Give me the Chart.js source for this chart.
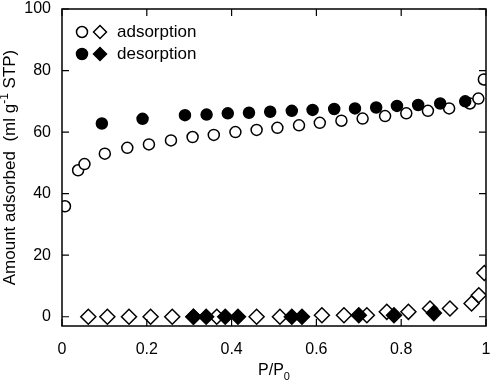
<!DOCTYPE html>
<html lang="en">
<head>
<meta charset="UTF-8">
<title>Isotherm</title>
<script src="https://cdn.jsdelivr.net/npm/chart.js"></script>
<style>
    body { margin: 0; padding: 0; background: #ffffff; }
    .wrap { position: relative; width: 495px; height: 386px; }
</style>
</head>
<body>
<div class="wrap"><canvas id="iso"></canvas></div>
<script>
// open circles: adsorption, Langmuir-type part
const adsCircX = [0.007, 0.038, 0.053, 0.101, 0.154, 0.205, 0.257, 0.308, 0.358, 0.409, 0.459, 0.508,
                  0.559, 0.608, 0.659, 0.709, 0.762, 0.812, 0.863, 0.913, 0.962, 0.982, 0.995];
const adsCircY = [35.9, 47.6, 49.6, 53.0, 54.9, 56.0, 57.3, 58.4, 59.1, 60.0, 60.7, 61.4,
                  62.2, 63.0, 63.7, 64.4, 65.2, 66.1, 66.9, 67.7, 69.3, 70.9, 77.1];
// filled circles: desorption
const desCircX = [0.094, 0.190, 0.290, 0.341, 0.391, 0.441, 0.491, 0.542, 0.591, 0.642, 0.691, 0.741,
                  0.790, 0.840, 0.892, 0.951];
const desCircY = [62.8, 64.3, 65.5, 65.7, 66.1, 66.3, 66.6, 66.9, 67.2, 67.5, 67.7, 68.0,
                  68.5, 68.8, 69.3, 70.0];
// open diamonds: adsorption, second sample
const adsDiaX = [0.062, 0.107, 0.158, 0.209, 0.260, 0.310, 0.365, 0.459, 0.514, 0.613, 0.665, 0.719,
                 0.766, 0.817, 0.868, 0.915, 0.966, 0.983, 0.996];
const adsDiaY = [0, 0, 0, 0, 0, 0, 0, 0, 0, 0.5, 0.5, 0.5,
                 1.6, 1.6, 2.7, 2.7, 4.3, 7.0, 14.2];
// filled diamonds: desorption, second sample
const desDiaX = [0.31, 0.34, 0.385, 0.415, 0.542, 0.566, 0.70, 0.783, 0.877];
const desDiaY = [0, 0, 0, 0, 0, 0, 0.5, 0.5, 1.2];

const xTicks = [0, 0.2, 0.4, 0.6, 0.8, 1];
const yTicks = [0, 20, 40, 60, 80, 100];
const legendLabels = ['adsorption', 'desorption'];

const FONT = 'Arial, "Liberation Sans", sans-serif';

function pts(xs, ys) {
    return xs.map((x, i) => ({ x: x, y: ys[i] }));
}

// frame, inward ticks, axis titles and legend
const decor = {
    id: 'decor',
    afterDraw(chart) {
        const ctx = chart.ctx;
        const a = chart.chartArea;
        const sx = chart.scales.x, sy = chart.scales.y;
        const tl = 7;
        ctx.save();
        ctx.strokeStyle = '#000';
        ctx.lineWidth = 1.5;
        ctx.strokeRect(a.left, a.top, a.right - a.left, a.bottom - a.top);
        ctx.lineWidth = 1.2;
        ctx.beginPath();
        xTicks.forEach(v => {
            const px = sx.getPixelForValue(v);
            ctx.moveTo(px, a.bottom); ctx.lineTo(px, a.bottom - tl);
            ctx.moveTo(px, a.top); ctx.lineTo(px, a.top + tl);
        });
        yTicks.forEach(v => {
            const py = sy.getPixelForValue(v);
            ctx.moveTo(a.left, py); ctx.lineTo(a.left + tl, py);
            ctx.moveTo(a.right, py); ctx.lineTo(a.right - tl, py);
        });
        ctx.stroke();

        // x title  P/P0
        ctx.fillStyle = '#000';
        ctx.textBaseline = 'alphabetic';
        ctx.textAlign = 'left';
        const main = 'P/P';
        ctx.font = '16px ' + FONT;
        const w1 = ctx.measureText(main).width;
        ctx.font = '11px ' + FONT;
        const w2 = ctx.measureText('0').width;
        const cx = (a.left + a.right) / 2;
        const x0 = cx - (w1 + w2) / 2;
        ctx.font = '16px ' + FONT;
        ctx.fillText(main, x0, 375);
        ctx.font = '11px ' + FONT;
        ctx.fillText('0', x0 + w1, 380);

        // y title  Amount adsorbed  (ml g-1 STP)
        const partA = 'Amount adsorbed  (ml g';
        const sup = '-1';
        const partB = ' STP)';
        ctx.font = '17px ' + FONT;
        const wa = ctx.measureText(partA).width;
        const wb = ctx.measureText(partB).width;
        ctx.font = '12px ' + FONT;
        const ws = ctx.measureText(sup).width;
        const total = wa + ws + wb;
        const cy = (a.top + a.bottom) / 2;
        ctx.translate(15, cy);
        ctx.rotate(-Math.PI / 2);
        let t = -total / 2;
        ctx.font = '17px ' + FONT;
        ctx.fillText(partA, t, 0);
        t += wa;
        ctx.font = '12px ' + FONT;
        ctx.fillText(sup, t, -7);
        t += ws;
        ctx.font = '17px ' + FONT;
        ctx.fillText(partB, t, 0);
        ctx.setTransform(1, 0, 0, 1, 0, 0);

        // legend
        const rows = [
            { y: 32, fill: '#fff' },
            { y: 54, fill: '#000' }
        ];
        rows.forEach((r, i) => {
            ctx.fillStyle = r.fill;
            ctx.strokeStyle = '#000';
            ctx.lineWidth = 1.5;
            Chart.helpers.drawPoint(ctx, { pointStyle: 'circle', radius: 5.5, borderWidth: 1.5 }, 82, r.y);
            ctx.fillStyle = r.fill;
            Chart.helpers.drawPoint(ctx, { pointStyle: 'rectRot', radius: 6.5, borderWidth: 1.5 }, 100, r.y);
            ctx.fillStyle = '#000';
            ctx.font = '17px ' + FONT;
            ctx.textBaseline = 'middle';
            ctx.fillText(legendLabels[i], 117, r.y);
        });
        ctx.restore();
    }
};

const open = { backgroundColor: '#ffffff', borderColor: '#000000', borderWidth: 1.5 };
const full = { backgroundColor: '#000000', borderColor: '#000000', borderWidth: 1.5 };

new Chart(document.getElementById('iso'), {
    type: 'scatter',
    data: {
        datasets: [
            Object.assign({ label: 'desorption', data: pts(desCircX, desCircY), pointStyle: 'circle', pointRadius: 5.5, order: 0 }, full),
            Object.assign({ label: 'desorption', data: pts(desDiaX, desDiaY), pointStyle: 'rectRot', pointRadius: 7.5, order: 1 }, full),
            Object.assign({ label: 'adsorption', data: pts(adsCircX, adsCircY), pointStyle: 'circle', pointRadius: 5.5, order: 2 }, open),
            Object.assign({ label: 'adsorption', data: pts(adsDiaX, adsDiaY), pointStyle: 'rectRot', pointRadius: 7.5, order: 3 }, open)
        ]
    },
    options: {
        responsive: true,
        maintainAspectRatio: false,
        animation: false,
        layout: { padding: { top: 7, right: 8, left: 0, bottom: 0 } },
        plugins: { legend: { display: false }, tooltip: { enabled: false } },
        scales: {
            x: {
                type: 'linear',
                min: 0,
                max: 1,
                afterBuildTicks: s => { s.ticks = xTicks.map(v => ({ value: v })); },
                afterFit: s => { s.height = 60; s.paddingLeft = 0; s.paddingRight = 0; },
                grid: { display: false, drawTicks: false },
                border: { display: false },
                ticks: {
                    color: '#000',
                    font: { family: FONT, size: 16 },
                    padding: 14,
                    maxRotation: 0,
                    callback: v => String(Math.round(v * 10) / 10)
                }
            },
            y: {
                type: 'linear',
                min: -3,
                max: 100,
                afterBuildTicks: s => { s.ticks = yTicks.map(v => ({ value: v })); },
                afterFit: s => { s.width = 62; s.paddingTop = 0; s.paddingBottom = 0; },
                grid: { display: false, drawTicks: false },
                border: { display: false },
                ticks: {
                    color: '#000',
                    font: { family: FONT, size: 16 },
                    padding: 11
                }
            }
        }
    },
    plugins: [decor]
});
</script>
</body>
</html>
